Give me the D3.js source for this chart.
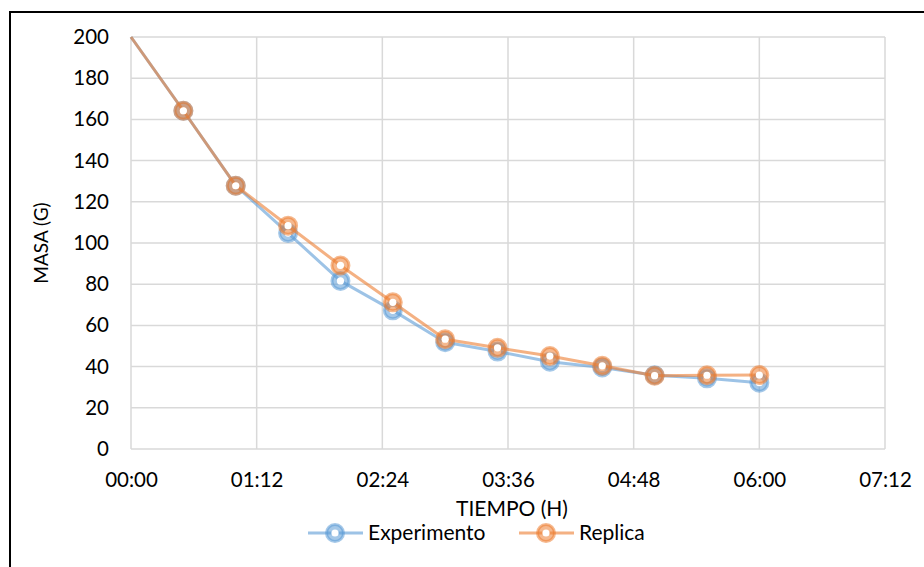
<!DOCTYPE html>
<html>
<head>
<meta charset="utf-8">
<script src="https://cdn.jsdelivr.net/npm/d3@7"></script>
<style>
  html, body { margin: 0; padding: 0; background: #fff; }
  svg { display: block; }
</style>
</head>
<body>
<div id="chart"></div>
<script>
// minutes since start
const times = [0, 30, 60, 90, 120, 150, 180, 210, 240, 270, 300, 330, 360];
const experimento = [200, 164.2, 127.8, 104.8, 81.6, 67.3, 51.8, 47.3, 42.4, 39.6, 35.8, 34.3, 32.2];
const replica = [200, 164.2, 127.8, 108.4, 89.1, 71.2, 53.3, 49.1, 45.1, 40.4, 35.6, 35.8, 35.9];
const xTicks = [0, 72, 144, 216, 288, 360, 432];
const yTicks = [0, 20, 40, 60, 80, 100, 120, 140, 160, 180, 200];

const width = 924;
const height = 567;
const marginLeft = 131;
const marginRight = 39;
const marginTop = 37;
const marginBottom = 118;

const font = "Lato, 'Open Sans', sans-serif";

const x = d3.scaleLinear().domain([0, 432]).range([marginLeft, width - marginRight]);
const y = d3.scaleLinear().domain([0, 200]).range([height - marginBottom, marginTop]);

const fmt = m => d3.format("02")(Math.floor(m / 60)) + ":" + d3.format("02")(m % 60);

const svg = d3.create("svg")
  .attr("width", width)
  .attr("height", height)
  .attr("viewBox", [0, 0, width, height])
  .style("font-family", font);

// chart frame (right and bottom edges fall outside the picture)
svg.append("rect")
  .attr("x", 10).attr("y", 12)
  .attr("width", width + 20).attr("height", height + 20)
  .attr("fill", "none")
  .attr("stroke", "#000")
  .attr("stroke-width", 2);

// gridlines
const grid = svg.append("g").attr("stroke", "#d9d9d9").attr("stroke-width", 1.5);
grid.selectAll("line.h").data(yTicks).join("line")
  .attr("class", "h")
  .attr("x1", x(0)).attr("x2", x(432))
  .attr("y1", d => y(d)).attr("y2", d => y(d));
grid.selectAll("line.v").data(xTicks).join("line")
  .attr("class", "v")
  .attr("x1", d => x(d)).attr("x2", d => x(d))
  .attr("y1", y(0)).attr("y2", y(200));

// y axis labels
svg.append("g")
  .attr("transform", `translate(${x(0)},0)`)
  .call(d3.axisLeft(y).tickValues(yTicks).tickSize(0).tickPadding(22))
  .call(g => g.select(".domain").remove())
  .call(g => g.selectAll("text").attr("font-size", 20.5).attr("font-family", font).attr("fill", "#000"));

// x axis labels
svg.append("g")
  .attr("transform", `translate(0,${y(0)})`)
  .call(d3.axisBottom(x).tickValues(xTicks).tickFormat(fmt).tickSize(0).tickPadding(23))
  .call(g => g.select(".domain").remove())
  .call(g => g.selectAll("text").attr("font-size", 20.5).attr("font-family", font).attr("fill", "#000"));

// axis titles
svg.append("text")
  .attr("transform", `translate(41,${(y(0) + y(200)) / 2}) rotate(-90)`)
  .attr("text-anchor", "middle")
  .attr("dy", "0.35em")
  .attr("font-size", 19)
  .text("MASA (G)");

svg.append("text")
  .attr("x", (x(0) + x(432)) / 2 + 4)
  .attr("y", 516)
  .attr("text-anchor", "middle")
  .attr("font-size", 21)
  .text("TIEMPO (H)");

const series = [
  { name: "Experimento", values: experimento, color: "#5b9bd5" },
  { name: "Replica", values: replica, color: "#ed7d31" }
];

const line = d3.line().x(d => x(d[0])).y(d => y(d[1]));

function marker(g, cx, cy, color) {
  g.append("circle")
    .attr("cx", cx).attr("cy", cy).attr("r", 8.5)
    .attr("fill", color).attr("fill-opacity", 0.55)
    .attr("stroke", color).attr("stroke-opacity", 0.55).attr("stroke-width", 3);
  g.append("circle")
    .attr("cx", cx).attr("cy", cy).attr("r", 3.6)
    .attr("fill", "#fff");
}

series.forEach(s => {
  const pts = times.map((t, i) => [t, s.values[i]]);
  const g = svg.append("g");
  g.append("path")
    .datum(pts)
    .attr("fill", "none")
    .attr("stroke", s.color)
    .attr("stroke-opacity", 0.6)
    .attr("stroke-width", 3)
    .attr("stroke-linejoin", "round")
    .attr("d", line);
  pts.slice(1).forEach(p => marker(g, x(p[0]), y(p[1]), s.color));
});

// legend
const legendY = 533;
const legendItems = [
  { s: series[0], x0: 308 },
  { s: series[1], x0: 519 }
];
legendItems.forEach(({ s, x0 }) => {
  const g = svg.append("g");
  g.append("line")
    .attr("x1", x0).attr("x2", x0 + 55)
    .attr("y1", legendY).attr("y2", legendY)
    .attr("stroke", s.color).attr("stroke-opacity", 0.6).attr("stroke-width", 3);
  marker(g, x0 + 27, legendY, s.color);
  g.append("text")
    .attr("x", x0 + 60)
    .attr("y", legendY)
    .attr("dy", "0.35em")
    .attr("font-size", 21)
    .text(s.name);
});

document.getElementById("chart").appendChild(svg.node());
</script>
</body>
</html>
